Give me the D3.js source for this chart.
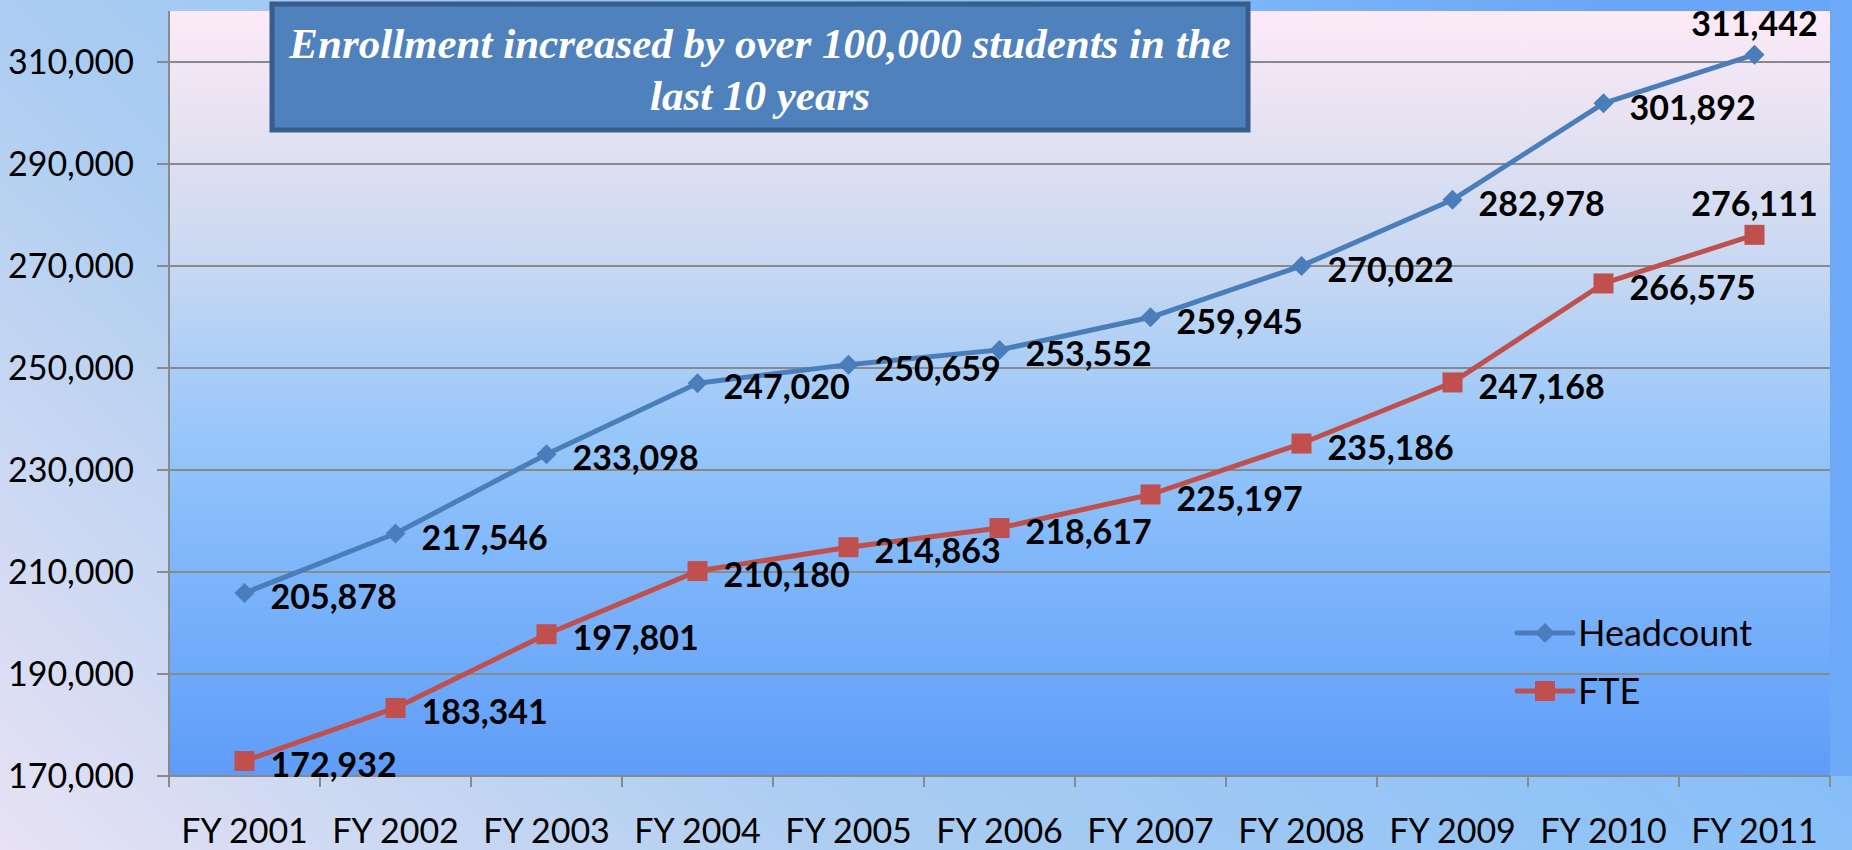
<!DOCTYPE html>
<html>
<head>
<meta charset="utf-8">
<script src="https://cdn.jsdelivr.net/npm/d3@7"></script>
<style>
  html, body { margin: 0; padding: 0; background: #fff; }
  svg { display: block; }
  .tick-label { font-family: Lato, "Open Sans", sans-serif; font-size: 34px; fill: #000; }
  .legend-label { font-family: Lato, "Open Sans", sans-serif; font-size: 36px; fill: #000; }
  .data-label { font-family: Lato, "Open Sans", sans-serif; font-size: 34px; font-weight: bold; fill: #000; }
  .title { font-family: "Liberation Serif", "Times New Roman", serif; font-size: 43px; font-weight: bold; font-style: italic; fill: #fff; }
</style>
</head>
<body>
<div id="main"></div>
<script>
///////////
// DATA  //
///////////

const years     = ["FY 2001", "FY 2002", "FY 2003", "FY 2004", "FY 2005", "FY 2006",
                   "FY 2007", "FY 2008", "FY 2009", "FY 2010", "FY 2011"]
const headcount = [205878, 217546, 233098, 247020, 250659, 253552, 259945, 270022, 282978, 301892, 311442]
const fte       = [172932, 183341, 197801, 210180, 214863, 218617, 225197, 235186, 247168, 266575, 276111]
const y_ticks   = [170000, 190000, 210000, 230000, 250000, 270000, 290000, 310000]
const title_lines = ["Enrollment increased by over 100,000 students in the", "last 10 years"]

const series = [
    { name: "Headcount", values: headcount, color: "#4a7ebb", marker: "diamond" },
    { name: "FTE",       values: fte,       color: "#c0504d", marker: "square" }
]

///////////
// SETUP //
///////////

const width  = 1852
const height = 850
const plot = { left: 169, right: 1830, top: 11, bottom: 776 }

const x = d3.scaleBand()
    .domain(years)
    .range([plot.left, plot.right])

const y = d3.scaleLinear()
    .domain([170000, 320000])
    .range([plot.bottom, plot.top])

const fmt = d3.format(",")

const svg = d3.select("#main").append("svg")
    .attr("width", width)
    .attr("height", height)

const defs = svg.append("defs")

// backgrounds
const bg = defs.append("linearGradient")
    .attr("id", "bg")
    .attr("gradientUnits", "userSpaceOnUse")
    .attr("x1", 0).attr("y1", 850).attr("x2", 1200).attr("y2", -400)
;[[0, "#e8e2f4"], [0.35, "#abcdf1"], [0.74, "#89c0f8"], [1, "#6aa6f7"]]
    .forEach(([o, c]) => bg.append("stop").attr("offset", o).attr("stop-color", c))

const plot_bg = defs.append("linearGradient")
    .attr("id", "plot-bg")
    .attr("x1", 0).attr("y1", 0).attr("x2", 0).attr("y2", 1)
;[[0, "#fdeaf8"], [0.15, "#e6e2f2"], [0.35, "#c4d7f2"], [0.55, "#98c7fa"], [0.72, "#7fb7fb"], [1, "#5e9cf8"]]
    .forEach(([o, c]) => plot_bg.append("stop").attr("offset", o).attr("stop-color", c))

svg.append("rect")
    .attr("width", width).attr("height", height)
    .attr("fill", "url(#bg)")

svg.append("rect")
    .attr("x", plot.right).attr("y", 0)
    .attr("width", width - plot.right).attr("height", plot.bottom)
    .attr("fill", "#6ea9f8")

svg.append("rect")
    .attr("x", plot.left).attr("y", plot.top)
    .attr("width", plot.right - plot.left).attr("height", plot.bottom - plot.top)
    .attr("fill", "url(#plot-bg)")

//////////
// AXES //
//////////

// gridlines
svg.append("g")
    .selectAll("line")
    .data(y_ticks)
    .enter().append("line")
        .attr("x1", plot.left - 12).attr("x2", plot.right)
        .attr("y1", d => y(d)).attr("y2", d => y(d))
        .attr("stroke", "#8a8a8a")
        .attr("stroke-width", 2)

// y axis line
svg.append("line")
    .attr("x1", plot.left).attr("x2", plot.left)
    .attr("y1", plot.top).attr("y2", plot.bottom)
    .attr("stroke", "#8a8a8a").attr("stroke-width", 2)

// x axis ticks
const band_edges = years.map(d => x(d)).concat([plot.right])
svg.append("g")
    .selectAll("line")
    .data(band_edges)
    .enter().append("line")
        .attr("x1", d => d).attr("x2", d => d)
        .attr("y1", plot.bottom).attr("y2", plot.bottom + 11)
        .attr("stroke", "#8a8a8a").attr("stroke-width", 2)

svg.append("g")
    .selectAll("text")
    .data(y_ticks)
    .enter().append("text")
        .attr("class", "tick-label")
        .attr("x", 134)
        .attr("y", d => y(d))
        .attr("dy", "0.36em")
        .attr("text-anchor", "end")
        .text(fmt)

svg.append("g")
    .selectAll("text")
    .data(years)
    .enter().append("text")
        .attr("class", "tick-label")
        .attr("x", d => x(d) + x.bandwidth() / 2)
        .attr("y", 843)
        .attr("text-anchor", "middle")
        .text(d => d)

///////////
// LINES //
///////////

const line = d3.line()
    .x((d, i) => x(years[i]) + x.bandwidth() / 2)
    .y(d => y(d))

function draw_marker(g, kind, color){
    if (kind === "diamond"){
        g.append("path")
            .attr("d", "M0,-10L10,0L0,10L-10,0Z")
            .attr("fill", color)
    } else {
        g.append("rect")
            .attr("x", -10).attr("y", -10)
            .attr("width", 20).attr("height", 20)
            .attr("fill", color)
    }
}

series.forEach(s => {
    svg.append("path")
        .datum(s.values)
        .attr("d", line)
        .attr("fill", "none")
        .attr("stroke", s.color)
        .attr("stroke-width", 5)
        .attr("stroke-linejoin", "round")

    s.values.forEach((v, i) => {
        const g = svg.append("g")
            .attr("transform", `translate(${x(years[i]) + x.bandwidth() / 2},${y(v)})`)
        draw_marker(g, s.marker, s.color)
    })
})

// data labels: right of the point, last one above
series.forEach(s => {
    svg.append("g")
        .selectAll("text")
        .data(s.values)
        .enter().append("text")
            .attr("class", "data-label")
            .attr("x", (d, i) => x(years[i]) + x.bandwidth() / 2 + (i === years.length - 1 ? 0 : 26))
            .attr("y", (d, i) => y(d) + (i === years.length - 1 ? -31 : 4))
            .attr("dy", "0.36em")
            .attr("text-anchor", (d, i) => i === years.length - 1 ? "middle" : "start")
            .text(fmt)
})

////////////
// LEGEND //
////////////

const legend = svg.append("g")
series.forEach((s, i) => {
    const ly = 633 + i * 58
    legend.append("line")
        .attr("x1", 1517).attr("x2", 1573)
        .attr("y1", ly).attr("y2", ly)
        .attr("stroke", s.color).attr("stroke-width", 5)
        .attr("stroke-linecap", "round")
    const g = legend.append("g").attr("transform", `translate(1545,${ly})`)
    draw_marker(g, s.marker, s.color)
    legend.append("text")
        .attr("class", "legend-label")
        .attr("x", 1578).attr("y", ly)
        .attr("dy", "0.36em")
        .text(s.name)
})

///////////
// TITLE //
///////////

svg.append("rect")
    .attr("x", 272).attr("y", 4)
    .attr("width", 976).attr("height", 126)
    .attr("fill", "#4f81bd")
    .attr("stroke", "#385d8a")
    .attr("stroke-width", 5)

svg.append("g")
    .selectAll("text")
    .data(title_lines)
    .enter().append("text")
        .attr("class", "title")
        .attr("x", 760)
        .attr("y", (d, i) => 58 + i * 52)
        .attr("text-anchor", "middle")
        .text(d => d)
</script>
</body>
</html>
